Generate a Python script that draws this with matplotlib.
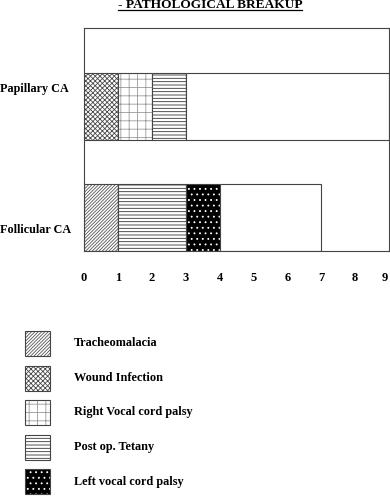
import matplotlib
matplotlib.use("Agg")
from matplotlib import pyplot as plt
from matplotlib.patches import Rectangle
from matplotlib.lines import Line2D
import matplotlib.transforms as mtransforms

plt.rcParams['font.family'] = ['Liberation Serif', 'DejaVu Serif']
plt.rcParams['font.weight'] = 'bold'
plt.rcParams['hatch.linewidth'] = 0.6

# data
categories = ['Follicular CA', 'Papillary CA']
complications = ['Tracheomalacia', 'Wound Infection', 'Right Vocal cord palsy',
                 'Post op. Tetany', 'Left vocal cord palsy']
# counts per complication (follicular, papillary)
tracheomalacia = [1, 0]
wound_infection = [0, 1]
right_vc_palsy = [0, 1]
post_op_tetany = [2, 1]
left_vc_palsy = [1, 0]
no_complication = [3, 6]

series = [tracheomalacia, wound_infection, right_vc_palsy, post_op_tetany,
          left_vc_palsy, no_complication]
# (face, hatch, hatch colour)
styles = [('white', '//////////', '#555555'),
          ('white', 'xxxxxxx', '#4a4a4a'),
          ('white', '++', '#999999'),
          ('white', '-----', '#333333'),
          ('black', '...', 'white'),
          ('white', '', 'white')]

fig = plt.figure(figsize=(3.9, 4.96), dpi=100)
ax = fig.add_axes([84/390, 1 - 251/496, 305/390, 223/496])

ypos = list(range(len(categories)))
left = [0] * len(categories)
for vals, (fc, h, hc) in zip(series, styles):
    ax.barh(ypos, vals, left=left, height=0.6, color=fc, hatch=h,
            edgecolor=hc, linewidth=0)
    ax.barh(ypos, vals, left=left, height=0.6, fill=False,
            edgecolor='#444444', linewidth=0.8)
    left = [a + b for a, b in zip(left, vals)]

ax.set_xlim(0, 9)
ax.set_ylim(-0.3, 1.71)
ax.set_xticks(range(10))
ax.tick_params(axis='x', length=0, pad=15, labelsize=9)
ax.set_yticks([])
for s in ax.spines.values():
    s.set_color('#444444')
    s.set_linewidth(0.8)
# keep the last tick label inside the picture
last = ax.get_xticklabels()[-1]
last.set_transform(last.get_transform() +
                   mtransforms.ScaledTranslation(-4/100, 0, fig.dpi_scale_trans))

# category labels
trans = mtransforms.blended_transform_factory(fig.transFigure, ax.transData)
label_off = [-0.11, 0.16]
for y, name, off in zip(ypos, categories, label_off):
    ax.text(0.0, y + off, name, transform=trans, ha='left', va='center',
            fontsize=8.7, fontweight='bold')

# title
fig.text(0.538, 1 - 8/496, '- PATHOLOGICAL BREAKUP', ha='center',
         va='baseline', fontsize=9.6, fontweight='bold')
fig.add_artist(Line2D([118/390, 302/390], [1 - 10/496, 1 - 10/496],
                      color='black', lw=0.9, transform=fig.transFigure))

# legend drawn by hand
for i, (name, (fc, h, hc)) in enumerate(zip(complications, styles)):
    y0 = 1 - (356 + i * 34.5) / 496
    r = Rectangle((25/390, y0), 25/390, 25/496, transform=fig.transFigure,
                  facecolor=fc, hatch=h, edgecolor=hc, linewidth=0)
    fig.add_artist(r)
    r2 = Rectangle((25/390, y0), 25/390, 25/496, transform=fig.transFigure,
                   fill=False, edgecolor='#444444', linewidth=0.8)
    fig.add_artist(r2)
    fig.text(74/390, y0 + 12.5/496, name, ha='left', va='center',
             fontsize=8.8, fontweight='bold')

fig.savefig('out.png', dpi=100)
